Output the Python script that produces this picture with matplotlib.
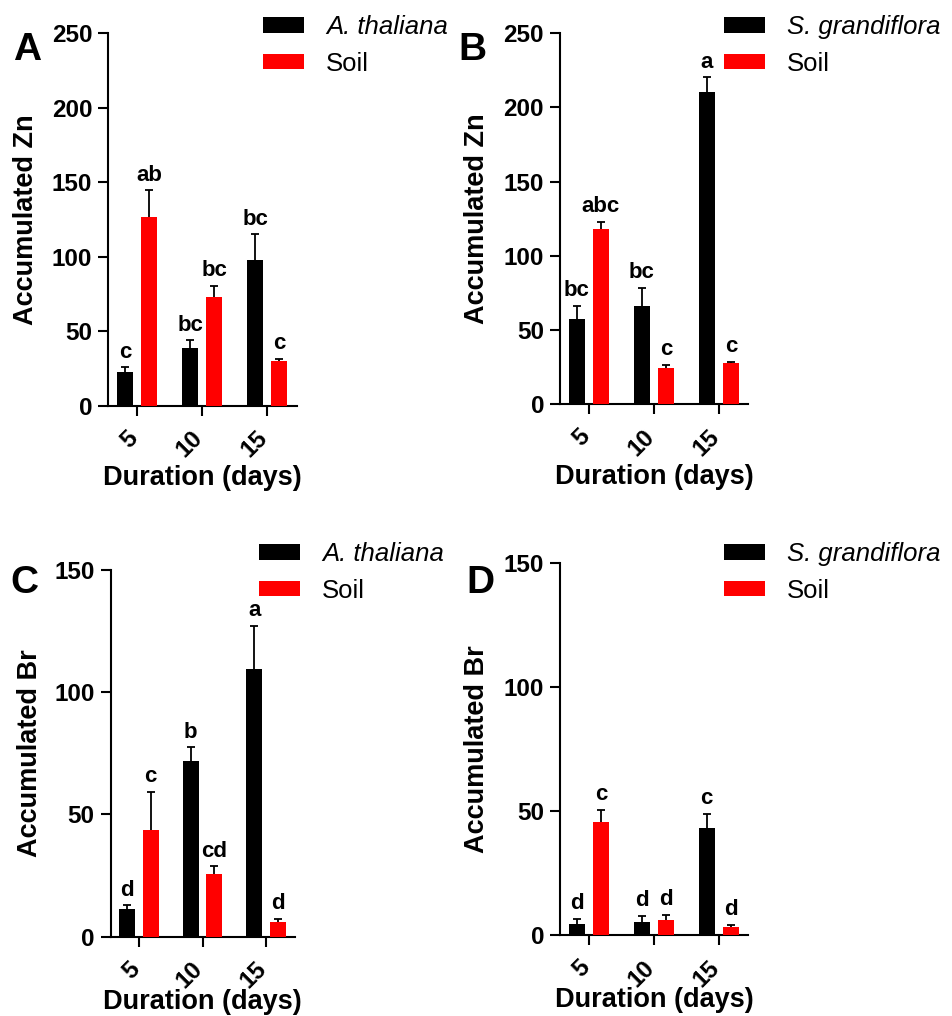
import numpy as np
import matplotlib
matplotlib.use("Agg")
import matplotlib.pyplot as plt
from matplotlib.transforms import ScaledTranslation

plt.rcParams["font.family"] = ["Liberation Sans", "DejaVu Sans"]

durations = ["5", "10", "15"]

# panel A - A. thaliana, Zn
a_plant = [22.8, 38.9, 97.8]
a_plant_err = [2.9, 5.0, 17.2]
a_soil = [126.5, 73.0, 30.0]
a_soil_err = [18.1, 7.3, 1.3]
a_plant_lab = ["c", "bc", "bc"]
a_soil_lab = ["ab", "bc", "c"]

# panel B - S. grandiflora, Zn
b_plant = [57.3, 66.3, 210.7]
b_plant_err = [9.2, 12.3, 9.7]
b_soil = [117.9, 24.3, 27.6]
b_soil_err = [5.0, 2.2, 1.2]
b_plant_lab = ["bc", "bc", "a"]
b_soil_lab = ["abc", "c", "c"]

# panel C - A. thaliana, Br
c_plant = [11.2, 71.9, 109.4]
c_plant_err = [1.6, 5.6, 17.7]
c_soil = [43.5, 25.6, 6.1]
c_soil_err = [15.8, 3.2, 1.1]
c_plant_lab = ["d", "b", "a"]
c_soil_lab = ["c", "cd", "d"]

# panel D - S. grandiflora, Br
d_plant = [4.3, 5.2, 43.2]
d_plant_err = [2.2, 2.6, 5.6]
d_soil = [45.6, 6.1, 3.4]
d_soil_err = [5.0, 2.1, 0.6]
d_plant_lab = ["d", "d", "c"]
d_soil_lab = ["c", "d", "d"]

W, H = 952, 1016
fig = plt.figure(figsize=(W / 100, H / 100), dpi=100)


def px_axes(l, r, t, b):
    return fig.add_axes([l / W, 1 - b / H, (r - l) / W, (b - t) / H])


def draw_errors(ax, x, vals, errs):
    vals = np.array(vals)
    eb = ax.errorbar(x, vals, yerr=[np.zeros(len(vals)), errs], fmt="none",
                     ecolor="black", elinewidth=1.3, capsize=2.8, capthick=1.3,
                     zorder=4)
    # only the upper cap is wanted
    for cl in eb.lines[1]:
        if np.allclose(cl.get_ydata(), vals):
            cl.set_visible(False)


def panel(ax, plant, plant_err, soil, soil_err, plant_lab, soil_lab,
          species, ylabel, ymax, step, leg_xy, xlab_y=-0.16):
    x = np.arange(len(durations))
    off = 0.186
    w = 0.25
    ax.bar(x - off, plant, width=w, color="black", label=species, zorder=3)
    ax.bar(x + off, soil, width=w, color="#ff0000", label="Soil", zorder=3)
    draw_errors(ax, x - off, plant, plant_err)
    draw_errors(ax, x + off, soil, soil_err)
    for xs, vals, errs, labs in [(x - off, plant, plant_err, plant_lab),
                                 (x + off, soil, soil_err, soil_lab)]:
        for xi, v, e, t in zip(xs, vals, errs, labs):
            ax.annotate(t, (xi, v + e), xytext=(0, 7), textcoords="offset points",
                        ha="center", va="baseline", fontsize=16, fontweight="bold")

    ax.set_xlim(-0.445, 2.455)
    ax.set_ylim(0, ymax)
    yt = np.arange(0, ymax + 1, step)
    ax.set_yticks(yt, labels=[str(v) for v in yt], fontsize=17.5, fontweight="bold")
    ax.set_xticks(x, labels=durations, fontsize=17.5, fontweight="bold",
                  rotation=45, ha="right")
    ax.tick_params(axis="both", width=1.5, length=7, direction="out")
    ax.tick_params(axis="y", pad=4.5)
    ax.tick_params(axis="x", pad=8)
    for lab in ax.get_xticklabels():
        lab.set_transform(lab.get_transform() + ScaledTranslation(5 / 100, 0, fig.dpi_scale_trans))
    for s in ["top", "right"]:
        ax.spines[s].set_visible(False)
    for s in ["left", "bottom"]:
        ax.spines[s].set_linewidth(1.5)
    ax.set_ylabel(ylabel, fontsize=19.5, fontweight="bold")
    ax.set_xlabel("Duration (days)", fontsize=19.5, fontweight="bold")
    ax.yaxis.set_label_coords(-0.37, 0.5)
    ax.xaxis.set_label_coords(0.5, xlab_y)

    leg = ax.legend(loc="upper left", bbox_to_anchor=(leg_xy[0] / W, 1 - leg_xy[1] / H),
                    bbox_transform=fig.transFigure, frameon=False, fontsize=18.5,
                    handlelength=1.6, handleheight=0.55, handletextpad=0.85,
                    labelspacing=0.5, borderpad=0, borderaxespad=0)
    leg.get_texts()[0].set_fontstyle("italic")


axA = px_axes(108.3, 296.7, 33.3, 405.7)
panel(axA, a_plant, a_plant_err, a_soil, a_soil_err, a_plant_lab, a_soil_lab,
      "A. thaliana", "Accumulated Zn", 250, 50, (263, 15))
axB = px_axes(560, 748.3, 33.3, 404.3)
panel(axB, b_plant, b_plant_err, b_soil, b_soil_err, b_plant_lab, b_soil_lab,
      "S. grandiflora", "Accumulated Zn", 250, 50, (724, 15))
axC = px_axes(110.7, 295, 570, 936.7)
panel(axC, c_plant, c_plant_err, c_soil, c_soil_err, c_plant_lab, c_soil_lab,
      "A. thaliana", "Accumulated Br", 150, 50, (259, 542), xlab_y=-0.143)
axD = px_axes(560, 748.3, 563.3, 935)
panel(axD, d_plant, d_plant_err, d_soil, d_soil_err, d_plant_lab, d_soil_lab,
      "S. grandiflora", "Accumulated Br", 150, 50, (724, 542), xlab_y=-0.14)

for letter, lx, ly in [("A", 13, 60), ("B", 458, 60), ("C", 10, 593), ("D", 466, 593)]:
    fig.text(lx / W, 1 - ly / H, letter, fontsize=28, fontweight="bold", va="baseline")

fig.savefig("out.png", dpi=100)
